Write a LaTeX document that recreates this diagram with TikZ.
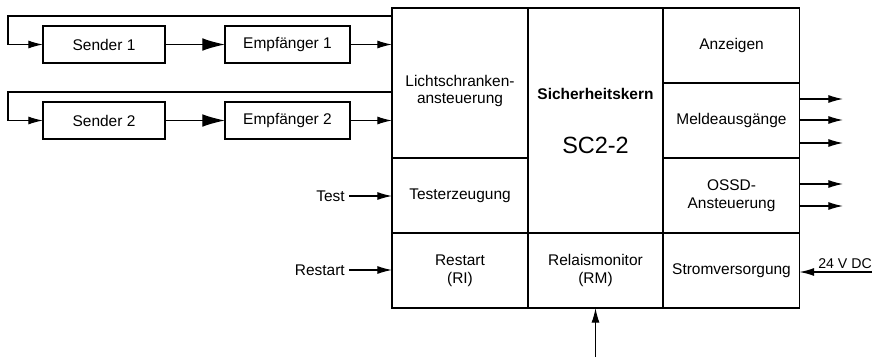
\documentclass[tikz,border=0pt]{standalone}
\usepackage{fontspec}
\setmainfont{Liberation Sans}
\usetikzlibrary{arrows.meta}
\newcommand\txtsize{\fontsize{11.6}{13.4}\selectfont}
\tikzstyle{every edge} = [draw,line width=0.9pt,-{Latex[length=11pt,width=6pt]}]
\tikzstyle{big} = [-{Latex[length=17pt,width=9.5pt]}]
\tikzstyle{unit} = [draw,rectangle,line width=0.9pt,minimum width=91.5pt,minimum height=27.75pt,inner sep=0pt,outer sep=0pt]
\tikzstyle{cell} = [draw,rectangle,line width=1.1pt,minimum width=102pt,minimum height=56.25pt,inner sep=0pt,outer sep=0pt,align=center]

\begin{document}
\begin{tikzpicture}[x=0.75pt,y=-0.75pt,every node/.style={font=\txtsize}]

\useasboundingbox (0,0) rectangle (874,357);

\node[cell,minimum height=112.5pt] (ls) at (460,83) {};
\node[align=center] (lst) at (460,91) {Lichtschranken-\\ansteuerung};
\node[cell] (tz) at (460,195.5) {Testerzeugung};
\node[cell] (rs) at (460,270.5) {Restart\\(RI)};
\node[cell,minimum width=101.25pt,minimum height=168.75pt] (sk) at (595.5,120.5) {};
\node[font=\txtsize\bfseries] (skt) at (595.5,94) {Sicherheitskern};
\node[font=\fontsize{17.6}{20}\selectfont] (skn) at (595.5,145) {SC2-2};
\node[cell,minimum width=101.25pt] (rm) at (595.5,270.5) {Relaismonitor\\(RM)};
\node[cell] (az) at (731.5,45.5) {Anzeigen};
\node[cell] (ma) at (731.5,120.5) {Meldeausg\"ange};
\node[cell] (os) at (731.5,195.5) {OSSD-\\Ansteuerung};
\node[cell] (sv) at (731.5,270.5) {Stromversorgung};

\node[unit] (s1) at (104,44.5) {Sender 1};
\node[unit,minimum width=93.75pt] (e1) at (287.5,44.5) {Empf\"anger 1};
\node[unit] (s2) at (104,120.5) {Sender 2};
\node[unit,minimum width=93.75pt] (e2) at (287.5,120.5) {Empf\"anger 2};

\coordinate (fb1) at (8,16);
\coordinate (fb2) at (8,92);
\draw[line width=0.9pt,-{Latex[length=11pt,width=6pt]}] (ls.west |- fb1) -- (fb1) |- (s1);
\draw[line width=0.9pt,-{Latex[length=11pt,width=6pt]}] (ls.west |- fb2) -- (fb2) |- (s2);
\draw (s1) edge[big] (e1);
\draw (s2) edge[big] (e2);
\draw (e1) edge (e1 -| ls.west);
\draw (e2) edge (e2 -| ls.west);

\node[anchor=east,inner sep=3pt] (test) at (349,196) {Test};
\node[anchor=east,inner sep=3pt] (rst) at (349,270) {Restart};
\draw (test) edge (test -| tz.west);
\draw (rst) edge (rst -| rs.west);

\coordinate (m1) at (843,99);
\coordinate (m2) at (843,120);
\coordinate (m3) at (843,143);
\coordinate (o1) at (843,184);
\coordinate (o2) at (843,206);
\draw (ma.east |- m1) edge (m1);
\draw (ma.east |- m2) edge (m2);
\draw (ma.east |- m3) edge (m3);
\draw (os.east |- o1) edge (o1);
\draw (os.east |- o2) edge (o2);

\coordinate (dc) at (872,272);
\draw (dc) edge (dc -| sv.east);
\node[anchor=south east,inner xsep=0pt,inner ysep=2pt,font=\fontsize{10.6}{12}\selectfont] (dcl) at (dc) {24 V DC};

\coordinate (rmin) at (595.5,357);
\draw (rmin) edge (rm.south);

\end{tikzpicture}
\end{document}
